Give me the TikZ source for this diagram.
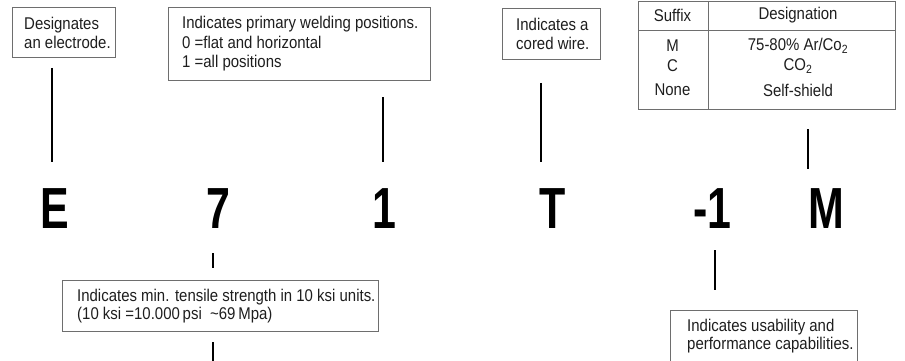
\documentclass[tikz,border=0pt]{standalone}
\usepackage{fontspec}
\setmainfont[FakeStretch=0.88]{Liberation Sans}
\newfontfamily\bigfont[FakeStretch=0.74]{Liberation Sans Bold}
\definecolor{boxgray}{HTML}{6E6E6E}
\definecolor{txtcol}{HTML}{1E1E1E}
\begin{document}
\begin{tikzpicture}[x=1pt,y=1pt,
  box/.style={draw=boxgray, line width=0.9pt, inner sep=0pt, anchor=north west},
  txt/.style={inner sep=0pt, align=left, anchor=west, text=txtcol, font=\fontsize{17}{18.5}\selectfont},
  cell/.style={inner sep=0pt, text=txtcol, font=\fontsize{17}{18.5}\selectfont},
  big/.style={inner sep=0pt, anchor=base, font=\bigfont\fontsize{58}{64}\selectfont},
  conn/.style={line width=2.4pt, black}]
\useasboundingbox (0,0) rectangle (905,-361);

% top boxes
\node[box, minimum width=103pt, minimum height=50pt] (b1) at (12,-7) {};
\node[txt] (t1) at (24,-33) {Designates\\an electrode.};

\node[box, minimum width=262pt, minimum height=73pt] (b2) at (168,-7) {};
\node[txt, font=\fontsize{17}{19.5}\selectfont] (t2) at (182,-44) {Indicates primary welding positions.\\0 =flat and horizontal\\1 =all positions};

\node[box, minimum width=98pt, minimum height=51pt] (b3) at (502,-8) {};
\node[txt] (t3) at (516,-34) {Indicates a\\cored wire.};

% table
\node[box, minimum width=257pt, minimum height=108pt] (tab) at (638,-1) {};
\coordinate (hl) at (638,-30);
\coordinate (hr) at (895,-30);
\coordinate (vt) at (708,-1);
\coordinate (vb) at (708,-109);
\draw[draw=boxgray, line width=0.9pt] (hl) -- (hr);
\draw[draw=boxgray, line width=0.9pt] (vt) -- (vb);
\node[cell] (s0) at (672.5,-15) {Suffix};
\node[cell] (d0) at (798,-15) {Designation};
\node[cell] (s1) at (672.5,-46) {M};
\node[cell] (d1) at (798,-46) {75-80\% Ar/Co\textsubscript{2}};
\node[cell] (s2) at (672.5,-66) {C};
\node[cell] (d2) at (798,-66) {CO\textsubscript{2}};
\node[cell] (s3) at (672.5,-90) {None};
\node[cell] (d3) at (798,-90) {Self-shield};

% big letters
\node[big] (E) at (54.5,-228) {E};
\node[big] (L7) at (218.5,-228) {7};
\node[big] (L1) at (384.5,-228) {1};
\node[big] (T) at (553,-228) {T};
\node[big] (D1) at (712.5,-228) {-1};
\node[big] (M) at (826.5,-228) {M};

% bottom boxes
\node[box, minimum width=316pt, minimum height=51pt] (b4) at (62,-280) {};
\node[txt] (t4) at (77,-306) {Indicates min. tensile strength in 10 ksi units.\\(10 ksi =10.000\,psi \ \textasciitilde69\,Mpa)};

\node[box, minimum width=187pt, minimum height=62pt] (b5) at (670,-310) {};
\node[txt] (t5) at (687,-336) {Indicates usability and\\performance capabilities.};

% connectors
\coordinate (cE1) at (52,-68);   \coordinate (cE2) at (52,-162);
\coordinate (c1a) at (383,-97);  \coordinate (c1b) at (383,-162);
\coordinate (cTa) at (541,-83);  \coordinate (cTb) at (541,-162);
\coordinate (cMa) at (808,-129); \coordinate (cMb) at (808,-169);
\coordinate (c7a) at (213,-253); \coordinate (c7b) at (213,-268);
\coordinate (c7c) at (213,-342); \coordinate (c7d) at (213,-361);
\coordinate (cDa) at (715,-250); \coordinate (cDb) at (715,-290);
\draw[conn] (cE1) -- (cE2);
\draw[conn] (c1a) -- (c1b);
\draw[conn] (cTa) -- (cTb);
\draw[conn] (cMa) -- (cMb);
\draw[conn] (c7a) -- (c7b);
\draw[conn] (c7c) -- (c7d);
\draw[conn] (cDa) -- (cDb);
\end{tikzpicture}
\end{document}
